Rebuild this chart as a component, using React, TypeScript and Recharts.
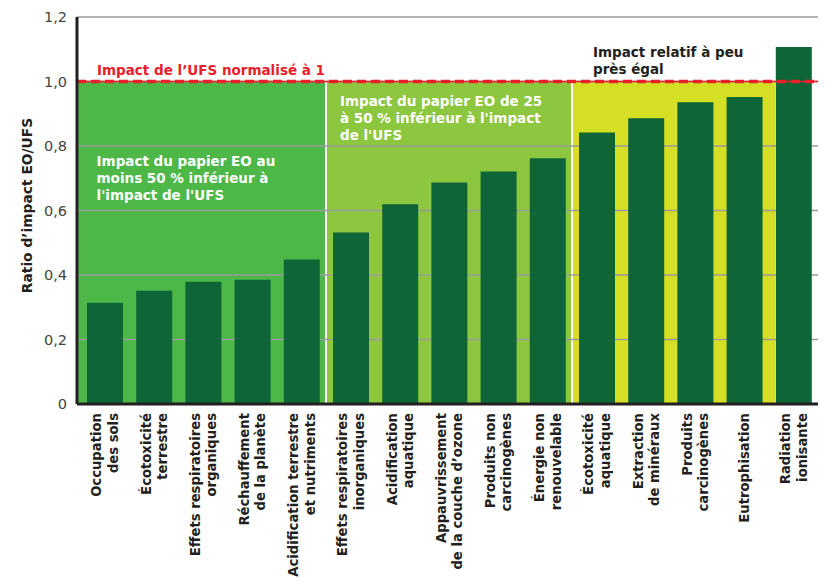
import { BarChart, Bar, XAxis, YAxis, CartesianGrid, ReferenceArea, ReferenceLine, Label } from 'recharts'

const categories = [
  'Occupation\ndes sols',
  'Écotoxicité\nterrestre',
  'Effets respiratoires\norganiques',
  'Réchauffement\nde la planète',
  'Acidification terrestre\net nutriments',
  'Effets respiratoires\ninorganiques',
  'Acidification\naquatique',
  'Appauvrissement\nde la couche d’ozone',
  'Produits non\ncarcinogènes',
  'Énergie non\nrenouvelable',
  'Écotoxicité\naquatique',
  'Extraction\nde minéraux',
  'Produits\ncarcinogènes',
  'Eutrophisation',
  'Radiation\nionisante'
]

const ratios = [0.314, 0.351, 0.379, 0.385, 0.448, 0.532, 0.619, 0.687, 0.721, 0.762, 0.842, 0.886, 0.936, 0.952, 1.107]

const yTicks = [0, 0.2, 0.4, 0.6, 0.8, 1.0, 1.2]
const yTickLabels = ['0', '0,2', '0,4', '0,6', '0,8', '1,0', '1,2']

// zone bounds on the 0..15 slot axis (small gaps leave the white separators)
const zoneStart = [-0.07, 5.02, 10.02]
const zoneEnd = [4.98, 9.98, 14.13]
const zoneColors = ['#4db848', '#8dc63f', '#d5df24']
const zoneTexts = [
  ['Impact du papier EO au', 'moins 50 % inférieur à', "l'impact de l'UFS"],
  ['Impact du papier EO de 25', "à 50 % inférieur à l'impact", "de l'UFS"],
  ['Impact relatif à peu', 'près égal']
]
// text placement relative to the top-left corner of each zone
const zoneTextOffset = [
  { dx: 20, dy: 84, color: '#ffffff' },
  { dx: 13, dy: 24, color: '#ffffff' },
  { dx: 20, dy: -25, color: '#231f20' }
]
const baselineLabel = 'Impact de l’UFS normalisé à 1'
const yAxisTitle = 'Ratio d’impact EO/UFS'

// pos = slot index on the 0..15 zone axis
const data = categories.map((name, i) => ({ name, ratio: ratios[i], pos: i + 0.5 }))

const FONT = '"DejaVu Sans", Verdana, sans-serif'

const XTick = (props: any) => {
  const { x, y, payload } = props
  const lines = String(payload.value).split('\n')
  const lh = 16.5
  const first = -((lines.length - 1) * lh) / 2 + 5
  return (
    <g transform={`translate(${x},${y})`}>
      <text transform="rotate(-90)" textAnchor="end" fontFamily={FONT} fontWeight={700} fontSize={13.2} fill="#231f20">
        {lines.map((l, i) => (
          <tspan key={i} x={-1} y={first + i * lh}>
            {l}
          </tspan>
        ))}
      </text>
    </g>
  )
}

const zoneLabel = (idx: number) => (props: any) => {
  const vb = props.viewBox
  const o = zoneTextOffset[idx]
  return (
    <text fontFamily={FONT} fontWeight={700} fontSize={13.5} fill={o.color}>
      {zoneTexts[idx].map((l, i) => (
        <tspan key={i} x={vb.x + o.dx} y={vb.y + o.dy + i * 17}>
          {l}
        </tspan>
      ))}
    </text>
  )
}

const baselineText = (props: any) => {
  const vb = props.viewBox
  return (
    <text x={vb.x + 20} y={vb.y - 7} fontFamily={FONT} fontWeight={700} fontSize={13.5} fill="#e8202a">
      {baselineLabel}
    </text>
  )
}

const yTitle = (props: any) => {
  const vb = props.viewBox
  const cy = vb.y + vb.height / 2 - 5
  return (
    <text
      x={27}
      y={cy}
      transform={`rotate(-90, 27, ${cy})`}
      textAnchor="middle"
      dominantBaseline="central"
      fontFamily={FONT}
      fontWeight={700}
      fontSize={13.8}
      fill="#231f20"
    >
      {yAxisTitle}
    </text>
  )
}

export default function App() {
  return (
    <div style={{ margin: -8, width: 827, height: 586, background: '#e6e6e1', position: 'relative', overflow: 'hidden' }}>
      <div style={{ position: 'absolute', left: 7, top: 5, right: 0, bottom: 0, background: '#ffffff' }} />
      <div style={{ position: 'absolute', left: 0, top: 0 }}>
        <BarChart width={827} height={586} data={data} margin={{ top: 17, right: 9, left: 0, bottom: 2 }} barSize={36}>
          <XAxis
            xAxisId="zone"
            type="number"
            dataKey="pos"
            domain={[0, 15]}
            allowDataOverflow
            hide
            padding={{ left: 3, right: 0 }}
          />
          <XAxis
            xAxisId="cat"
            dataKey="name"
            height={180}
            interval={0}
            padding={{ left: 3, right: 0 }}
            tick={<XTick />}
            tickLine={false}
            tickMargin={2}
            axisLine={{ stroke: '#231f20', strokeWidth: 3 }}
          />
          <YAxis
            width={77}
            domain={[0, 1.2]}
            ticks={yTicks}
            tickFormatter={(v: number) => yTickLabels[yTicks.indexOf(v)] ?? ''}
            tickLine={false}
            tickMargin={4}
            tick={{ fill: '#444444', fontSize: 14.5, fontFamily: FONT }}
            axisLine={{ stroke: '#231f20', strokeWidth: 3 }}
            allowDataOverflow
          >
            <Label content={yTitle} />
          </YAxis>
          {zoneStart.map((s, i) => (
            <ReferenceArea
              key={i}
              xAxisId="zone"
              x1={s}
              x2={zoneEnd[i]}
              y1={0}
              y2={1}
              fill={zoneColors[i]}
              fillOpacity={1}
              ifOverflow="visible"
              zIndex={50}
              label={zoneLabel(i)}
            />
          ))}
          <CartesianGrid xAxisId="cat" vertical={false} stroke="#9a9a9a" strokeWidth={1.5} zIndex={150} />
          <Bar xAxisId="cat" dataKey="ratio" fill="#0e6638" isAnimationActive={false} />
          <ReferenceLine xAxisId="cat" y={1} stroke="#e8202a" strokeWidth={1.5} />
          <ReferenceLine
            xAxisId="cat"
            y={1}
            stroke="#e8202a"
            strokeWidth={3.5}
            strokeDasharray="9 5"
            label={baselineText}
          />
        </BarChart>
      </div>
    </div>
  )
}
